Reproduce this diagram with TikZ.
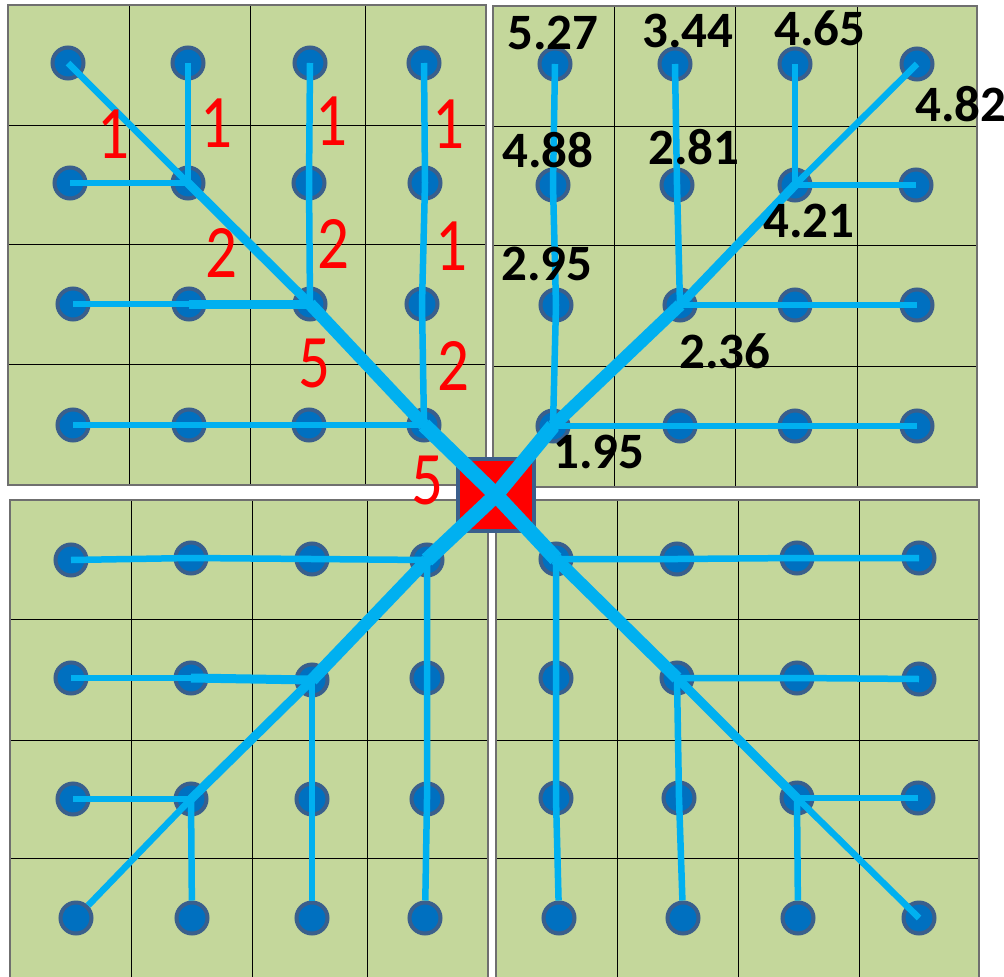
\documentclass[tikz,border=0pt]{standalone}
\usepackage{fontspec}
\setmainfont{Carlito}
\usepackage{graphicx}
\definecolor{grn}{HTML}{C4D79B}
\definecolor{dotfill}{HTML}{0070C0}
\definecolor{dotline}{HTML}{3A5F8C}
\definecolor{lb}{HTML}{00B0F0}
\definecolor{frame}{HTML}{6F6F6F}
\tikzset{
  bdot/.style={circle, fill=dotfill, draw=dotline, line width=4pt, minimum size=31pt, inner sep=0pt},
  ln1/.style={draw=lb, line width=6.5pt},
  ln2/.style={draw=lb, line width=9pt},
  ln3/.style={draw=lb, line width=12.5pt},
  ln4/.style={draw=lb, line width=15pt},
  gridln/.style={draw=black, line width=0.8pt},
  redsq/.style={rectangle, fill=red, draw=dotline, line width=4pt, minimum width=76pt, minimum height=72pt, inner sep=0pt},
  rlab/.style={text=red, inner sep=0pt, font=\fontsize{63}{63}\selectfont},
  klab/.style={text=black, inner sep=0pt, font=\fontsize{51}{51}\selectfont\bfseries},
}
\begin{document}
\begin{tikzpicture}[x=1pt,y=-1pt]
\useasboundingbox (0,0) rectangle (1004,977);
% quadrants
\fill[grn] (8,5) rectangle (486,485);
\foreach \x in {129,250,365} \draw[gridln] (\x,5) -- (\x,485);
\foreach \y in {125,244,364} \draw[gridln] (8,\y) -- (486,\y);
\draw[draw=frame, line width=1.6pt] (8,5) rectangle (486,485);

\fill[grn] (493,6) rectangle (977,487);
\foreach \x in {614,735,857} \draw[gridln] (\x,6) -- (\x,487);
\foreach \y in {126,245,366} \draw[gridln] (493,\y) -- (977,\y);
\draw[draw=frame, line width=1.6pt] (493,6) rectangle (977,487);

\fill[grn] (10,500) rectangle (488,985);
\foreach \x in {131,252,367} \draw[gridln] (\x,500) -- (\x,985);
\foreach \y in {619,740,858} \draw[gridln] (10,\y) -- (488,\y);
\draw[draw=frame, line width=1.6pt] (10,500) rectangle (488,985);

\fill[grn] (496,500) rectangle (979,985);
\foreach \x in {617,738,859} \draw[gridln] (\x,500) -- (\x,985);
\foreach \y in {619,740,858} \draw[gridln] (496,\y) -- (979,\y);
\draw[draw=frame, line width=1.6pt] (496,500) rectangle (979,985);

% dots top-left
\node[bdot] (a11) at (68,63) {};  \node[bdot] (a12) at (188,63) {};  \node[bdot] (a13) at (310,63) {};  \node[bdot] (a14) at (424,63) {};
\node[bdot] (a21) at (70,183) {}; \node[bdot] (a22) at (188,183) {}; \node[bdot] (a23) at (309,183) {}; \node[bdot] (a24) at (425,183) {};
\node[bdot] (a31) at (73,304) {}; \node[bdot] (a32) at (189,304) {}; \node[bdot] (a33) at (310,304) {}; \node[bdot] (a34) at (422,304) {};
\node[bdot] (a41) at (73,425) {}; \node[bdot] (a42) at (189,425) {}; \node[bdot] (a43) at (309,425) {}; \node[bdot] (a44) at (424,425) {};
% dots top-right
\node[bdot] (b11) at (555,64) {};  \node[bdot] (b12) at (675,64) {};  \node[bdot] (b13) at (795,64) {};  \node[bdot] (b14) at (917,64) {};
\node[bdot] (b21) at (553,185) {}; \node[bdot] (b22) at (677,185) {}; \node[bdot] (b23) at (795,185) {}; \node[bdot] (b24) at (916,185) {};
\node[bdot] (b31) at (556,305) {}; \node[bdot] (b32) at (680,305) {}; \node[bdot] (b33) at (795,305) {}; \node[bdot] (b34) at (917,305) {};
\node[bdot] (b41) at (553,426) {}; \node[bdot] (b42) at (680,426) {}; \node[bdot] (b43) at (795,426) {}; \node[bdot] (b44) at (917,426) {};
% dots bottom-left
\node[bdot] (d11) at (71,560) {}; \node[bdot] (d12) at (191,558) {}; \node[bdot] (d13) at (312,559) {}; \node[bdot] (d14) at (427,560) {};
\node[bdot] (d21) at (71,678) {}; \node[bdot] (d22) at (191,678) {}; \node[bdot] (d23) at (312,680) {}; \node[bdot] (d24) at (427,678) {};
\node[bdot] (d31) at (73,799) {}; \node[bdot] (d32) at (191,799) {}; \node[bdot] (d33) at (312,799) {}; \node[bdot] (d34) at (427,799) {};
\node[bdot] (d41) at (76,918) {}; \node[bdot] (d42) at (192,918) {}; \node[bdot] (d43) at (312,918) {}; \node[bdot] (d44) at (425,918) {};
% dots bottom-right
\node[bdot] (e11) at (556,559) {}; \node[bdot] (e12) at (677,559) {}; \node[bdot] (e13) at (797,558) {}; \node[bdot] (e14) at (919,558) {};
\node[bdot] (e21) at (556,678) {}; \node[bdot] (e22) at (677,678) {}; \node[bdot] (e23) at (797,678) {}; \node[bdot] (e24) at (919,679) {};
\node[bdot] (e31) at (556,798) {}; \node[bdot] (e32) at (679,798) {}; \node[bdot] (e33) at (797,798) {}; \node[bdot] (e34) at (918,798) {};
\node[bdot] (e41) at (559,918) {}; \node[bdot] (e42) at (683,918) {}; \node[bdot] (e43) at (798,918) {}; \node[bdot] (e44) at (919,918) {};

% red center square
\node[redsq] (c) at (496,495) {};

% connectors top-left
\draw[ln4] (c.center) -- (a44.center);
\draw[ln3] (a44.center) -- (a33.center);
\draw[ln2] (a33.center) -- (a22.center);
\draw[ln1] (a22.center) -- (a11.center);
\draw[ln1] (a12.center) -- (a22.center);
\draw[ln1] (a21.center) -- (a22.center);
\draw[ln1] (a13.center) -- (a23.center);
\draw[ln1] (a23.center) -- (a33.center);
\draw[ln1] (a14.center) -- (a24.center) -- (a34.center) -- (a44.center);
\draw[ln1] (a31.center) -- (a32.center);
\draw[ln2] (a32.center) -- (a33.center);
\draw[ln1] (a41.center) -- (a42.center) -- (a43.center) -- (a44.center);
% connectors top-right
\draw[ln4] (c.center) -- (b41.center);
\draw[ln3] (b41.center) -- (b32.center);
\draw[ln2] (b32.center) -- (b23.center);
\draw[ln1] (b23.center) -- (b14.center);
\draw[ln1] (b11.center) -- (b21.center) -- (b31.center) -- (b41.center);
\draw[ln1] (b12.center) -- (b22.center) -- (b32.center);
\draw[ln1] (b13.center) -- (b23.center);
\draw[ln1] (b23.center) -- (b24.center);
\draw[ln1] (b32.center) -- (b33.center) -- (b34.center);
\draw[ln1] (b41.center) -- (b42.center) -- (b43.center) -- (b44.center);
% connectors bottom-left
\draw[ln4] (c.center) -- (d14.center);
\draw[ln3] (d14.center) -- (d23.center);
\draw[ln2] (d23.center) -- (d32.center);
\draw[ln1] (d32.center) -- (d41);
\draw[ln1] (d11.center) -- (d12.center) -- (d13.center) -- (d14.center);
\draw[ln1] (d14.center) -- (d24.center) -- (d34.center) -- (d44);
\draw[ln1] (d21.center) -- (d22.center);
\draw[ln2] (d22.center) -- (d23.center);
\draw[ln1] (d23.center) -- (d33.center) -- (d43);
\draw[ln1] (d31.center) -- (d32.center);
\draw[ln1] (d32.center) -- (d42);
% connectors bottom-right
\draw[ln4] (c.center) -- (e11.center);
\draw[ln3] (e11.center) -- (e22.center);
\draw[ln2] (e22.center) -- (e33.center);
\draw[ln1] (e33.center) -- (e44.center);
\draw[ln1] (e11.center) -- (e12.center) -- (e13.center) -- (e14.center);
\draw[ln1] (e11.center) -- (e21.center) -- (e31.center) -- (e41);
\draw[ln1] (e22.center) -- (e23.center) -- (e24.center);
\draw[ln1] (e22.center) -- (e32.center) -- (e42);
\draw[ln1] (e33.center) -- (e34.center);
\draw[ln1] (e33.center) -- (e43);

% red labels
\node[rlab] (r1) at (113,134) {\scalebox{1}[1.2]{1}};
\node[rlab] (r2) at (216,123) {\scalebox{1}[1.2]{1}};
\node[rlab] (r3) at (331,121) {\scalebox{1}[1.2]{1}};
\node[rlab] (r4) at (448,124) {\scalebox{1}[1.2]{1}};
\node[rlab] (r5) at (221,253) {\scalebox{1}[1.2]{2}};
\node[rlab] (r6) at (333,244) {\scalebox{1}[1.2]{2}};
\node[rlab] (r7) at (451,246) {\scalebox{1}[1.2]{1}};
\node[rlab] (r8) at (314,364) {\scalebox{1}[1.2]{5}};
\node[rlab] (r9) at (453,366) {\scalebox{1}[1.2]{2}};
\node[rlab] (r10) at (427,480) {\scalebox{1}[1.2]{5}};

% black labels
\node[klab] (k1) at (553,33) {5.27};
\node[klab] (k2) at (688,31) {3.44};
\node[klab] (k3) at (820,28) {4.65};
\node[klab, anchor=west] (k4) at (915,104) {4.82};
\node[klab] (k5) at (548,150) {4.88};
\node[klab] (k6) at (694,147) {2.81};
\node[klab] (k7) at (809,221) {4.21};
\node[klab] (k8) at (547,264) {2.95};
\node[klab] (k9) at (725,351) {2.36};
\node[klab] (k10) at (599,452) {1.95};
\end{tikzpicture}
\end{document}
